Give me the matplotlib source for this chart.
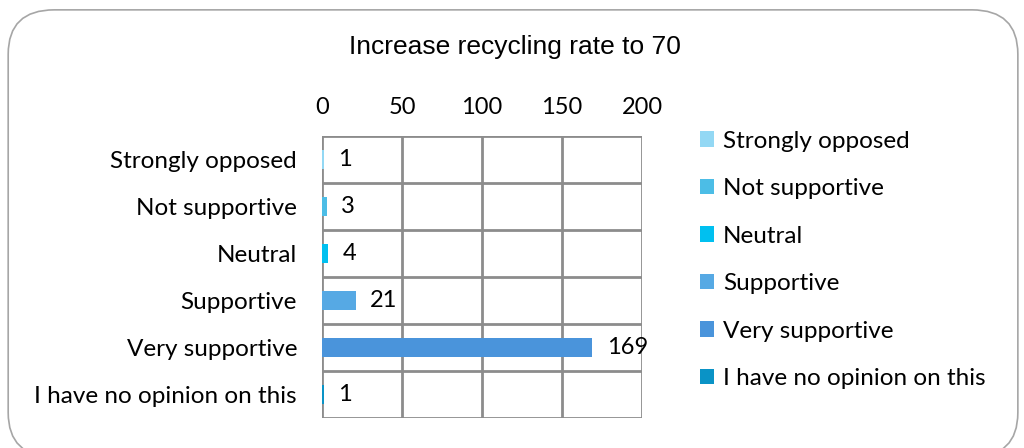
import matplotlib.pyplot as plt
from matplotlib.patches import FancyBboxPatch, Patch

# ----------------------------
# data
# ----------------------------
categories = ["Strongly opposed", "Not supportive", "Neutral",
              "Supportive", "Very supportive", "I have no opinion on this"]
counts = [1, 3, 4, 21, 169, 1]
colors = ["#93D8F4", "#4CBDE6", "#00C0F0", "#56A9E4", "#4A94DB", "#0A93C6"]
x_ticks = [0, 50, 100, 150, 200]

title = "Increase recycling rate to 70"

plt.rcParams["font.family"] = ["Lato", "DejaVu Sans"]
FS = 17.5

fig = plt.figure(figsize=(10.24, 4.48), dpi=100)

# rounded border of the chart area
border = FancyBboxPatch((0.008, -0.02), 0.986, 0.998, transform=fig.transFigure,
                        boxstyle="round,pad=0,rounding_size=0.045",
                        facecolor="white", edgecolor="#A6A6A6", linewidth=1.2,
                        mutation_aspect=2.2, zorder=-5)
fig.patches.append(border)

ax = fig.add_axes([0.3145, 0.067, 0.3125, 0.629])
ax.set_facecolor("none")

y = list(range(len(categories)))
ax.barh(y, counts, height=0.4, color=colors, zorder=3)
for yi, v in zip(y, counts):
    ax.text(v + 9, yi, str(v), va="center", ha="left", fontsize=17, zorder=4)

ax.set_xlim(0, 200)
ax.set_ylim(len(categories) - 0.5, -0.5)
ax.set_xticks(x_ticks)
ax.set_yticks(y)
ax.set_yticklabels(categories, fontsize=FS)
ax.xaxis.tick_top()
ax.tick_params(axis="x", labelsize=17, length=0, pad=13)
ax.tick_params(axis="y", length=0, pad=18)

# grid: vertical at ticks and horizontal between categories
grid_col = "#8C8C8C"
for xv in x_ticks:
    ax.axvline(xv, color=grid_col, linewidth=2, zorder=1)
for k in range(len(categories) + 1):
    ax.axhline(k - 0.5, color=grid_col, linewidth=2, zorder=1)
for s in ax.spines.values():
    s.set_visible(False)

fig.text(0.503, 0.895, title, ha="center", va="center", fontsize=19,
         family="Liberation Sans")

handles = [Patch(facecolor=c, edgecolor="none") for c in colors]
fig.legend(handles, categories, loc="upper left", bbox_to_anchor=(0.662, 0.757),
           frameon=False, fontsize=FS, handlelength=0.6, handleheight=0.6,
           handletextpad=0.35, labelspacing=1.09)

fig.savefig("out.png", dpi=100)
